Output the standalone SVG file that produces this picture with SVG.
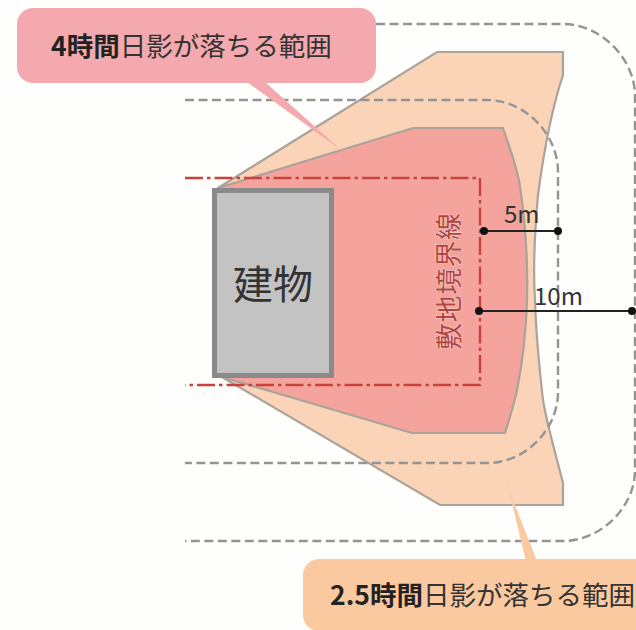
<svg xmlns="http://www.w3.org/2000/svg" width="636" height="630" viewBox="0 0 636 630">
<style>
text{font-family:"Noto Sans CJK JP","Noto Sans",sans-serif;fill:#333}
.b{font-weight:700;fill:#222}
.dash{fill:none;stroke:#949494;stroke-width:2.4;stroke-dasharray:9 4.5}
.dim{stroke:#222;stroke-width:2}
.dot{fill:#111}
.call{font-size:26.5px}
</style>
<rect width="636" height="630" fill="#fefefc"/>
<g id="zone-2-5h"><path d="M218 188L437 52H563V75C553 105 544 150 538 195C534 240 533 270 535 300C536 335 539 365 543 400C547 425 556 455 563 483V505H440L222 377Z" fill="#fbd3b6" stroke="#aaa39c" stroke-width="2.2"/></g>
<g id="zone-4h"><path d="M218 188L413 128H503C512 155 518 170 520 187C526 225 528 270 527 300C526 335 522 365 517 390C514 405 509 420 505 433H412L222 377Z" fill="#f4a49c" stroke="#aaa39c" stroke-width="2.2"/></g>
<g id="connectors">
<path class="dash" d="M376 24H563C600 24 635 58 635 96V470C635 508 600 541 563 541H185"/>
<path class="dash" d="M185 100H487C525 100 558 134 558 172V392C558 430 525 463 487 463H185"/>
<path d="M185 178H480V385H185" fill="none" stroke="#c9423c" stroke-width="2.4" stroke-dasharray="18 4 3.5 4"/>
<path d="M247 82L265 82L341 150Z" fill="#f4a9ae"/>
<path d="M507 483L515 505L537 561L526 561Z" fill="#fbc9a0"/>
<path class="dim" d="M484 231H558M479 311H632"/>
<circle class="dot" cx="484" cy="231" r="4"/><circle class="dot" cx="558" cy="231" r="4"/>
<circle class="dot" cx="479" cy="311" r="4"/><circle class="dot" cx="632" cy="311" r="4"/>
</g>
<g id="building"><rect x="214.500" y="190.500" width="117" height="185" fill="#c3c3c3" stroke="#8a8a8a" stroke-width="5"/>
<text x="273" y="299" font-size="40" text-anchor="middle" fill="#222">建物</text></g>
<g id="boundary-label"><text transform="translate(459 350) rotate(-90)" font-size="27" textLength="137" style="fill:#b0453f;stroke:#fbdcd8;stroke-width:1px;paint-order:stroke">敷地境界線</text></g>
<g id="label-5m"><text x="504" y="223" font-size="24">5m</text></g>
<g id="label-10m"><text x="534" y="305" font-size="24">10m</text></g>
<g id="callout-4h"><rect x="17" y="8" width="359" height="75" rx="16" fill="#f4a9ae"/>
<text class="call" x="51" y="56"><tspan class="b">4時間</tspan>日影が落ちる範囲</text></g>
<g id="callout-2-5h"><rect x="303" y="559" width="350" height="72" rx="16" fill="#fbc9a0"/>
<text class="call" x="330" y="605"><tspan class="b">2.5時間</tspan>日影が落ちる範囲</text></g>
</svg>
